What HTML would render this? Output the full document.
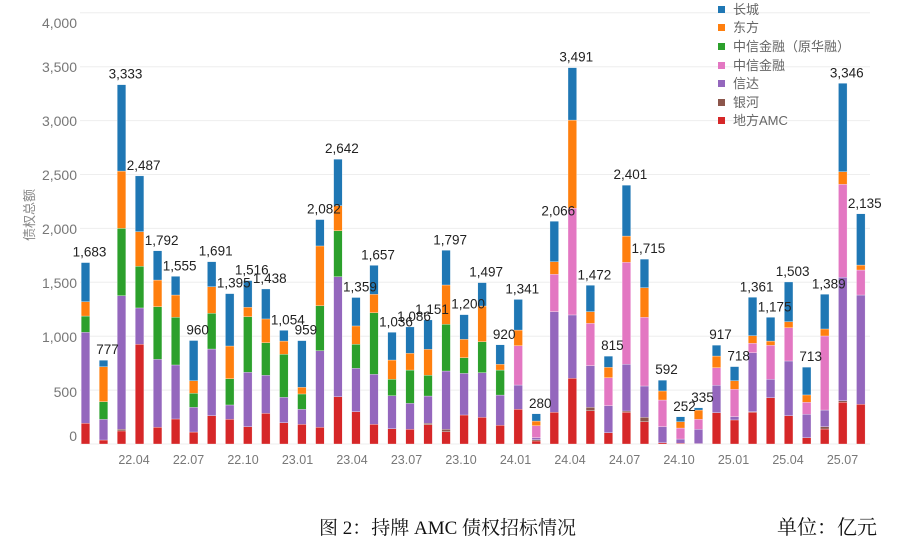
<!DOCTYPE html>
<html><head><meta charset="utf-8"><style>
html,body{margin:0;padding:0;background:#fff;}
svg{display:block;}
</style></head><body>
<svg id="c" width="900" height="547" xmlns="http://www.w3.org/2000/svg">
<g id="grid"></g>
<g id="bars"></g>
<g id="lbl" font-family="'Liberation Sans', sans-serif" font-size="13.5" fill="#222" text-anchor="middle"></g>
<g font-family="'Liberation Sans', sans-serif" font-size="14" fill="#777" text-anchor="end">
<text x="77" y="28">4,000</text><text x="77" y="72">3,500</text><text x="77" y="126">3,000</text>
<text x="77" y="180">2,500</text><text x="77" y="234">2,000</text><text x="77" y="288">1,500</text>
<text x="77" y="342">1,000</text><text x="77" y="397">500</text><text x="77" y="441">0</text>
</g>
<text transform="translate(34,215) rotate(-90)" font-family="'Liberation Sans','Noto Sans CJK SC',sans-serif" font-size="13" fill="#888" text-anchor="middle">债权总额</text>
<g id="xl" font-family="'Liberation Sans', sans-serif" font-size="12.5" fill="#777" text-anchor="middle"></g>
<g font-family="'Liberation Sans','Noto Sans CJK SC',sans-serif" font-size="13" fill="#666">
<rect x="718" y="6" width="7" height="7" fill="#1f77b4"/><text x="733" y="14">长城</text>
<rect x="718" y="24" width="7" height="7" fill="#ff7f0e"/><text x="733" y="32">东方</text>
<rect x="718" y="43" width="7" height="7" fill="#2ca02c"/><text x="733" y="51">中信金融（原华融）</text>
<rect x="718" y="62" width="7" height="7" fill="#e377c2"/><text x="733" y="70">中信金融</text>
<rect x="718" y="80" width="7" height="7" fill="#9467bd"/><text x="733" y="88">信达</text>
<rect x="718" y="99" width="7" height="7" fill="#8c564b"/><text x="733" y="107">银河</text>
<rect x="718" y="117" width="7" height="7" fill="#d62728"/><text x="733" y="125">地方AMC</text>
</g>
<text x="319" y="534" font-family="'Liberation Serif','Noto Serif CJK SC',serif" font-size="19" fill="#111">图 2：持牌 AMC 债权招标情况</text>
<text x="777" y="534" font-family="'Liberation Serif','Noto Serif CJK SC',serif" font-size="20" fill="#111">单位：亿元</text>
</svg>
<script>
// cumulative tops: [red, brown, purple, pink, green, orange, blue(total)]
var D=[
[192,192,1036,1036,1187,1320,1683],
[37,37,229,229,393,717,777],
[121,136,1376,1376,2000,2532,3333],
[925,925,1262,1262,1648,1970,2487],
[155,155,785,785,1274,1521,1792],
[232,232,733,733,1175,1382,1555],
[111,111,340,340,470,587,960],
[263,263,881,881,1212,1459,1691],
[229,229,362,362,606,909,1395],
[161,161,665,665,1181,1268,1516],
[284,284,637,637,940,1160,1438],
[198,198,433,433,832,955,1054],
[182,182,322,322,464,526,959],
[155,155,866,866,1283,1837,2082],
[439,439,1552,1552,1979,2211,2642],
[300,300,702,702,925,1095,1359],
[182,182,646,646,1218,1388,1657],
[142,142,448,448,600,779,1036],
[136,136,377,377,686,841,1086],
[180,192,445,445,637,878,1151],
[114,136,677,677,1110,1475,1797],
[269,269,655,655,801,971,1200],
[247,247,662,662,949,1280,1497],
[173,173,454,454,686,739,920],
[322,322,547,912,912,1057,1341],
[28,40,59,170,170,213,280],
[294,294,1228,1574,1574,1691,2066],
[609,609,1197,2186,2186,3005,3491],
[309,340,727,1119,1119,1228,1472],
[105,105,356,615,615,711,815],
[294,306,739,1685,1685,1929,2401],
[207,247,538,1175,1175,1450,1715],
[12,12,161,408,408,492,592],
[8,8,46,148,148,207,252],
[4,4,136,229,229,315,335],
[291,291,544,708,708,816,917],
[223,223,254,507,507,587,718],
[294,300,847,934,934,1005,1361],
[430,430,600,915,915,955,1175],
[263,263,770,1079,1079,1135,1503],
[59,59,275,387,387,455,713],
[139,161,315,1002,1002,1067,1389],
[387,402,1546,2409,2409,2526,3346],
[368,368,1382,1614,1614,1660,2135]];
var C=['#d62728','#8c564b','#9467bd','#e377c2','#2ca02c','#ff7f0e','#1f77b4'];
var NS='http://www.w3.org/2000/svg';
function el(t,a,p,txt){var e=document.createElementNS(NS,t);for(var k in a)e.setAttribute(k,a[k]);if(txt)e.textContent=txt;document.getElementById(p).appendChild(e);}
var B=444,S=0.1078;
for(var g=0;g<=4000;g+=500){var y=B-g*S;el('line',{x1:80,x2:870,y1:y,y2:y,stroke:'#eeeeee','stroke-width':1},'grid');}
D.forEach(function(d,i){
 var cx=85.5+i*18.03,prev=0;
 for(var j=0;j<7;j++){var v=d[j];if(v>prev){el('rect',{x:cx-4.3,y:B-v*S,width:8.6,height:(v-prev)*S,fill:C[j],stroke:'#fff','stroke-width':0.3},'bars');}prev=Math.max(prev,v);}
 el('text',{x:cx+4,y:B-d[6]*S-6},'lbl',d[6].toLocaleString('en-US'));
});
var xl=['22.04','22.07','22.10','23.01','23.04','23.07','23.10','24.01','24.04','24.07','24.10','25.01','25.04','25.07'];
xl.forEach(function(t,i){el('text',{x:134+i*54.5,y:464},'xl',t);});
</script>
</body></html>
